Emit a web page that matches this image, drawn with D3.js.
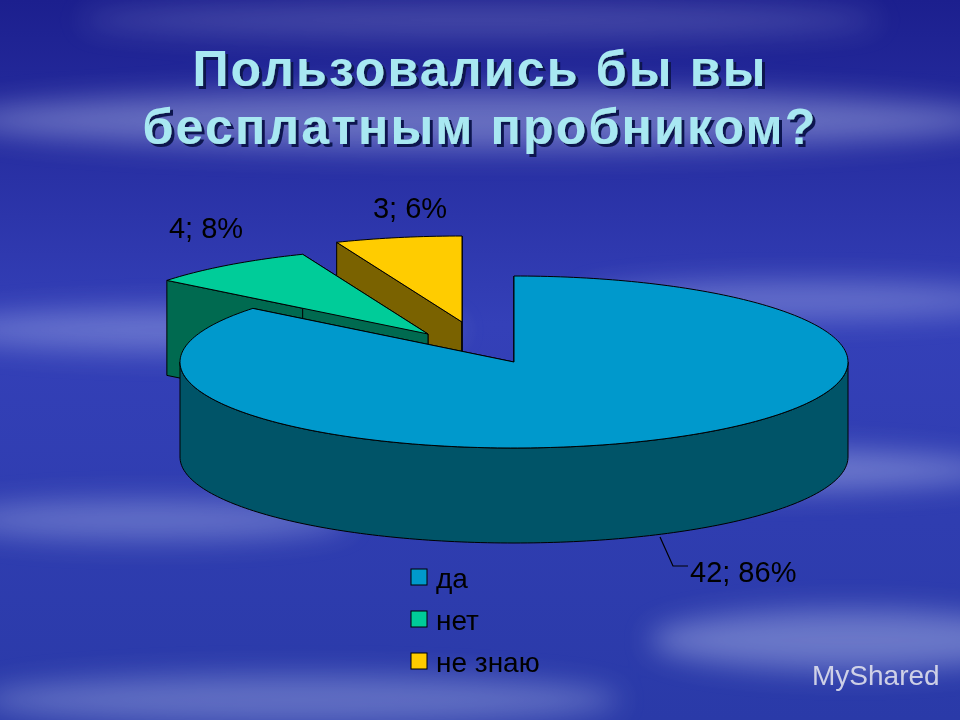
<!DOCTYPE html>
<html><head><meta charset="utf-8">
<script src="https://cdn.jsdelivr.net/npm/d3@7/dist/d3.min.js"></script>
<style>body{margin:0;overflow:hidden}</style></head>
<body><svg id="c" width="960" height="720"></svg>
<script>
const categories = ["да", "нет", "не знаю"];
const values = [42, 4, 3];
const percents = ["86%", "8%", "6%"];
const titleLines = ["Пользовались бы вы", "бесплатным пробником?"];
const topColors = ["#0099CC", "#00CC99", "#FFCC00"];
const sideColors = ["#005468", "#006A50", "#7A6200"];

const svg = d3.select("#c");
const defs = svg.append("defs");
const bg = defs.append("linearGradient").attr("id","bg").attr("x1",0).attr("y1",0).attr("x2",0).attr("y2",1);
bg.append("stop").attr("offset","0").attr("stop-color","#1c1f8e");
bg.append("stop").attr("offset","0.45").attr("stop-color","#3440b8");
bg.append("stop").attr("offset","1").attr("stop-color","#2a3aa8");
defs.append("filter").attr("id","blur").append("feGaussianBlur").attr("stdDeviation",14);
const sh = defs.append("filter").attr("id","shadow");
sh.append("feDropShadow").attr("dx",3).attr("dy",3).attr("stdDeviation",0.5).attr("flood-color","#0c1250");
svg.append("rect").attr("width",960).attr("height",720).attr("fill","url(#bg)");
const clouds = [[480,120,520,30,0.35],[200,330,260,22,0.3],[800,300,220,18,0.3],[700,470,300,22,0.35],[150,520,200,20,0.3],[850,640,200,30,0.35],[300,700,320,25,0.3],[480,20,400,18,0.2]];
svg.append("g").attr("filter","url(#blur)").selectAll("ellipse").data(clouds).join("ellipse")
  .attr("cx",d=>d[0]).attr("cy",d=>d[1]).attr("rx",d=>d[2]).attr("ry",d=>d[3])
  .attr("fill","#dfe8ff").attr("opacity",d=>d[4]);

// title
const tg = svg.append("g").attr("font-family","Arial, Liberation Sans, sans-serif").attr("font-weight","bold").attr("font-size",50).attr("letter-spacing",2.2).attr("text-anchor","middle").attr("filter","url(#shadow)");
titleLines.forEach((t,i)=>{
  tg.append("text").attr("x",480).attr("y",86+i*58).attr("fill","#a8e8f2").text(t);
});

// 3D pie
const cx=514, cy=362, rx=334, ry=86, depth=95;
const offsets=[[0,0],[-86,-28],[-52,-40]];
const arcs = d3.pie().sort(null).value(d=>d)(values);
const pt=(a,ox,oy,dz=0)=>[ox+cx+rx*Math.sin(a), oy+cy-ry*Math.cos(a)+dz];
function arcPts(a0,a1,ox,oy,dz){const n=Math.max(2,Math.ceil((a1-a0)/0.02));return d3.range(n+1).map(i=>pt(a0+(a1-a0)*i/n,ox,oy,dz));}
const line=d3.line();
const pg=svg.append("g");
[2,1,0].forEach(i=>{
  const a=arcs[i];
  const [ox,oy]=offsets[i];
  const c=[cx+ox,cy+oy];
  [a.startAngle,a.endAngle].forEach(ang=>{
    const p=pt(ang,ox,oy);
    pg.append("path").attr("d",line([c,p,[p[0],p[1]+depth],[c[0],c[1]+depth]])+"Z")
      .attr("fill",sideColors[i]).attr("stroke","#000").attr("stroke-width",1);
  });
  const f0=Math.max(a.startAngle,Math.PI/2), f1=Math.min(a.endAngle,3*Math.PI/2);
  if(f1>f0){
    const top=arcPts(f0,f1,ox,oy,0), bot=arcPts(f0,f1,ox,oy,depth).reverse();
    pg.append("path").attr("d",line(top.concat(bot))+"Z").attr("fill",sideColors[i]).attr("stroke","#000").attr("stroke-width",1);
  }
  pg.append("path").attr("d",line([c].concat(arcPts(a.startAngle,a.endAngle,ox,oy,0)))+"Z")
    .attr("fill",topColors[i]).attr("stroke","#000").attr("stroke-width",1);
});

// labels
const lf="Arial, Liberation Sans, sans-serif";
const labelPos=[[690,582,"start"],[206,238,"middle"],[410,218,"middle"]];
labelPos.forEach((p,i)=>svg.append("text").attr("x",p[0]).attr("y",p[1]).attr("text-anchor",p[2])
  .attr("font-family",lf).attr("font-size",29).attr("fill","#000").text(values[i]+"; "+percents[i]));
svg.append("path").attr("d",line([[660,537],[673,566],[688,566]])).attr("fill","none").attr("stroke","#000").attr("stroke-width",1.2);

// legend
const lg=svg.append("g").attr("font-family",lf).attr("font-size",28);
categories.forEach((c,i)=>{
  const y=578+i*42;
  lg.append("rect").attr("x",411).attr("y",y-9).attr("width",16).attr("height",16).attr("fill",topColors[i]).attr("stroke","#000");
  lg.append("text").attr("x",436).attr("y",y+10).attr("fill","#000").text(c);
});
svg.append("text").attr("x",812).attr("y",685).attr("font-family",lf).attr("font-size",28).attr("fill","#e8e8f0").attr("opacity",0.85).text("MyShared");
</script></body></html>
